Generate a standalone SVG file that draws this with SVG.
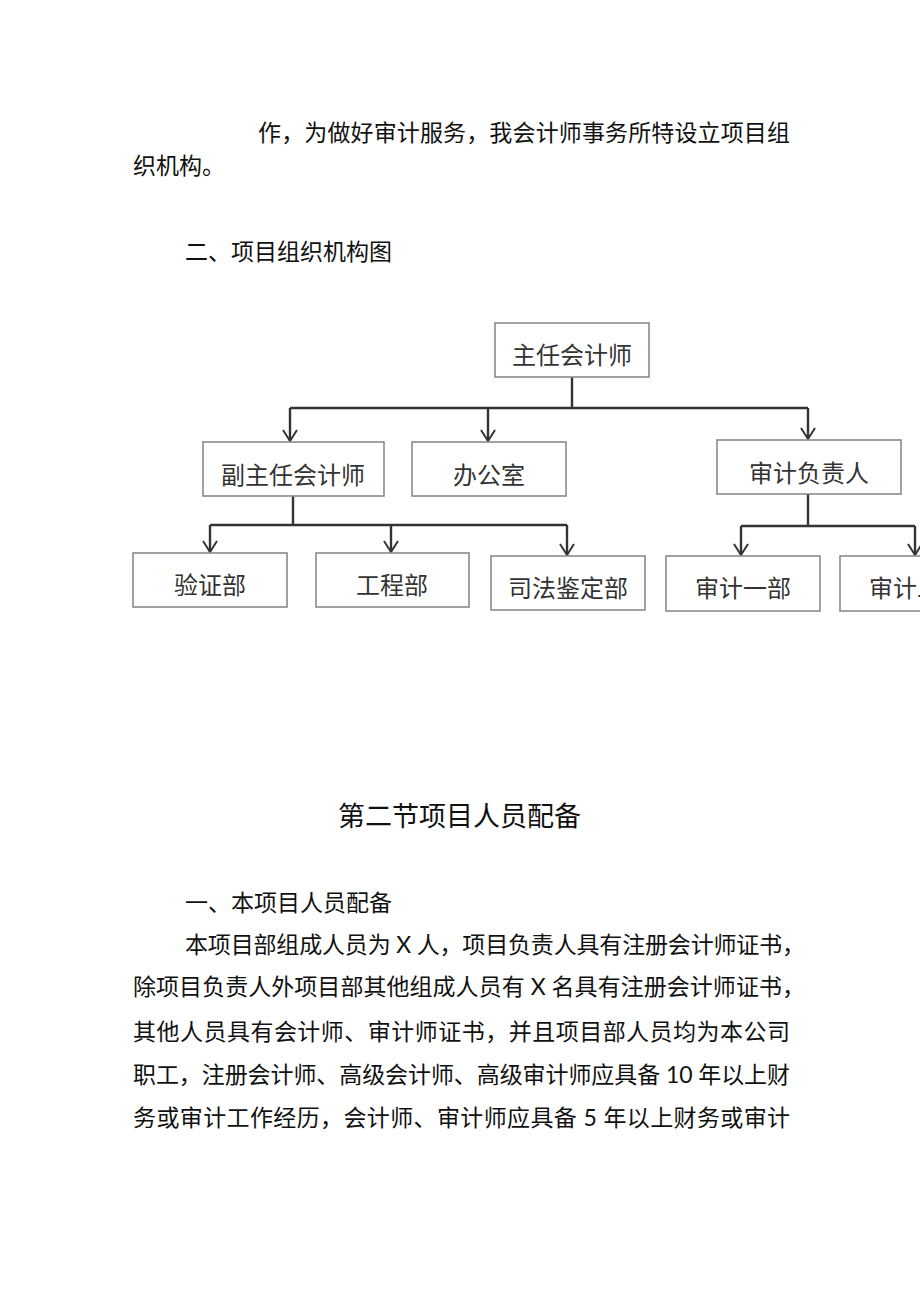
<svg xmlns="http://www.w3.org/2000/svg" width="920" height="1301" viewBox="0 0 920 1301">
<style>
.body{font-family:Lato,"Noto Sans CJK SC",sans-serif;font-size:23px;fill:#111}
.head{font-family:"Noto Sans CJK SC",sans-serif;font-size:27px;fill:#111}
.box{fill:#fff;stroke:#8a8a8a;stroke-width:1.6}
.lbl{font-family:"Noto Sans CJK SC",sans-serif;font-size:24px;fill:#333;text-anchor:middle}
.con{fill:none;stroke:#333;stroke-width:2.4}
.arr{fill:none;stroke:#333;stroke-width:2.4;marker-end:url(#ah)}
</style>
<defs>
<marker id="ah" markerUnits="userSpaceOnUse" viewBox="-14 -9 16 18" refX="0" refY="0" markerWidth="16" markerHeight="18" orient="auto">
<path d="M-11,-7 L0,0 L-11,7" fill="none" stroke="#333" stroke-width="2"/>
</marker>
</defs>
<rect width="920" height="1301" fill="#fff"/>
<g id="text">
<text class="body" x="258" y="141" textLength="532" lengthAdjust="spacing">作，为做好审计服务，我会计师事务所特设立项目组</text>
<text class="body" x="133" y="174">织机构。</text>
<text class="body" x="185" y="260">二、项目组织机构图</text>
<text class="head" x="338" y="826">第二节项目人员配备</text>
<text class="body" x="185" y="911">一、本项目人员配备</text>
<text class="body" x="185" y="953" textLength="620" lengthAdjust="spacing">本项目部组成人员为 X 人，项目负责人具有注册会计师证书，</text>
<text class="body" x="133" y="995" textLength="672" lengthAdjust="spacing">除项目负责人外项目部其他组成人员有 X 名具有注册会计师证书，</text>
<text class="body" x="133" y="1040" textLength="657" lengthAdjust="spacing">其他人员具有会计师、审计师证书，并且项目部人员均为本公司</text>
<text class="body" x="133" y="1083" textLength="657" lengthAdjust="spacing">职工，注册会计师、高级会计师、高级审计师应具备 10 年以上财</text>
<text class="body" x="133" y="1126" textLength="657" lengthAdjust="spacing">务或审计工作经历，会计师、审计师应具备 5 年以上财务或审计</text>
</g>
<g id="connectors">
<path class="con" d="M572,377 V408 M290,408 H808"/>
<path class="arr" d="M290,408 V441"/>
<path class="arr" d="M488,408 V441"/>
<path class="arr" d="M808,408 V439"/>
<path class="con" d="M293,496 V525 M210,525 H567"/>
<path class="arr" d="M210,525 V552"/>
<path class="arr" d="M391,525 V552"/>
<path class="arr" d="M567,525 V555"/>
<path class="con" d="M808,494 V526 M741,526 H915"/>
<path class="arr" d="M741,526 V555"/>
<path class="arr" d="M915,526 V555"/>
</g>
<g id="n-director"><rect class="box" x="495" y="323" width="154" height="54"/><text class="lbl" x="572" y="364">主任会计师</text></g>
<g id="n-deputy"><rect class="box" x="203" y="442" width="181" height="54"/><text class="lbl" x="293" y="484">副主任会计师</text></g>
<g id="n-office"><rect class="box" x="412" y="442" width="154" height="54"/><text class="lbl" x="489" y="484">办公室</text></g>
<g id="n-audit-lead"><rect class="box" x="717" y="440" width="184" height="54"/><text class="lbl" x="809" y="482">审计负责人</text></g>
<g id="n-verify"><rect class="box" x="133" y="553" width="154" height="54"/><text class="lbl" x="210" y="594">验证部</text></g>
<g id="n-eng"><rect class="box" x="316" y="553" width="153" height="54"/><text class="lbl" x="392" y="594">工程部</text></g>
<g id="n-forensic"><rect class="box" x="491" y="556" width="154" height="54"/><text class="lbl" x="568" y="597">司法鉴定部</text></g>
<g id="n-audit1"><rect class="box" x="666" y="556" width="154" height="55"/><text class="lbl" x="743" y="597">审计一部</text></g>
<g id="n-audit2"><rect class="box" x="840" y="556" width="154" height="55"/><text class="lbl" x="917" y="597">审计二部</text></g>
</svg>
